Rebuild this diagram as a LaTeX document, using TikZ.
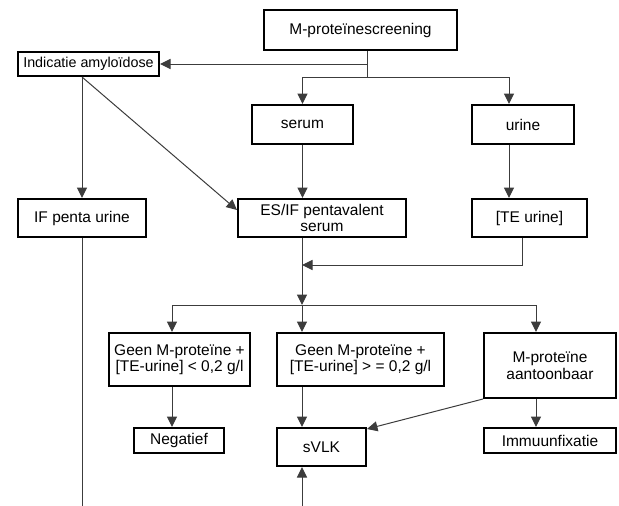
\documentclass[tikz,border=0pt]{standalone}
\usepackage{fontspec}
\setmainfont{Liberation Sans}
\usetikzlibrary{arrows.meta, positioning, calc}
\definecolor{LineGrey}{HTML}{3C3C3C}
\tikzset{
    % Box styles
    stepbox/.style={
        rectangle,
        draw=black,
        line width=2pt,
        inner sep=0pt,
        align=center,
        font=\fontsize{15.5}{16.5}\selectfont
    },
    smallbox/.style={
        stepbox,
        font=\fontsize{14.3}{16}\selectfont
    },
    % Connector styles
    link/.style={
        draw=LineGrey,
        line width=1pt
    },
    linkarrow/.style={
        link,
        -{Triangle[length=10.5pt,width=10pt]}
    }
}
\begin{document}
\begin{tikzpicture}[x=1pt,y=-1pt]
    \useasboundingbox (0,0) rectangle (619,506);

    % Top row
    \node[stepbox, minimum width=193, minimum height=40] (screen) at (360.5,30) {M-prote\"inescreening};
    \node[smallbox, minimum width=141, minimum height=24] (amyl) at (88.5,64) {Indicatie amylo\"idose};
    \node[stepbox, minimum width=101, minimum height=39] (serum) at (302.5,124.5) {serum};
    \node[stepbox, minimum width=102, minimum height=39] (urine) at (523,124.5) {urine};

    % Second row
    \node[stepbox, minimum width=128, minimum height=38] (ifpenta) at (82,218) {IF penta urine};
    \node[stepbox, minimum width=168, minimum height=38] (esif) at (322,218) {ES/IF pentavalent\\serum};
    \node[stepbox, minimum width=115, minimum height=38] (teurine) at (529.5,218) {[TE urine]};

    % Results
    \node[stepbox, minimum width=141, minimum height=53] (geenlt) at (179.5,359.5) {Geen M-prote\"ine +\\{}[TE-urine] < 0,2 g/l};
    \node[stepbox, minimum width=167, minimum height=53] (geenge) at (360.5,359.5) {Geen M-prote\"ine +\\{}[TE-urine] > = 0,2 g/l};
    \node[stepbox, minimum width=132, minimum height=65] (mprot) at (550,365.5) {M-prote\"ine\\aantoonbaar};
    \node[stepbox, minimum width=90, minimum height=25] (neg) at (179,440.5) {Negatief};
    \node[stepbox, minimum width=89, minimum height=38] (svlk) at (321.5,447) {sVLK};
    \node[stepbox, minimum width=132, minimum height=25] (immuun) at (550,440.5) {Immuunfixatie};

    % Junction points
    \coordinate (fork1) at (367,77);
    \coordinate (uline) at (509,77);
    \coordinate (tebend) at (522,265);
    \coordinate (fork2) at (302,305);
    \coordinate (ltline) at (172,305);
    \coordinate (mline) at (536,305);
    \coordinate (bottomL) at (82,506);
    \coordinate (bottomM) at (302,506);

    % Screening split
    \draw[link] (screen.south -| fork1) -- (fork1);
    \draw[linkarrow] (fork1 |- amyl.east) -- (amyl.east);
    \draw[link] (serum.north |- fork1) -- (uline);
    \draw[linkarrow] (serum.north |- fork1) -- (serum.north);
    \draw[linkarrow] (uline) -- (urine.north -| uline);

    % Amyloidosis branch
    \draw[linkarrow] (ifpenta.north |- amyl.south) -- (ifpenta.north);
    \draw[linkarrow] (ifpenta.north |- amyl.south) -- ($(esif.west)+(0,-8)$);
    \draw[link] (ifpenta.south) -- (bottomL);

    % Serum and urine
    \draw[linkarrow] (serum.south) -- (serum.south |- esif.north);
    \draw[linkarrow] (urine.south -| uline) -- (teurine.north -| uline);
    \draw[linkarrow] (teurine.south -| tebend) -- (tebend) -- (fork2 |- tebend);
    \draw[linkarrow] (esif.south -| fork2) -- (fork2);

    % Result split
    \draw[link] (ltline) -- (mline);
    \draw[linkarrow] (ltline) -- (geenlt.north -| ltline);
    \draw[linkarrow] (fork2) -- (geenge.north -| fork2);
    \draw[linkarrow] (mline) -- (mprot.north -| mline);

    % Outcomes
    \draw[linkarrow] (geenlt.south -| ltline) -- (neg.north -| ltline);
    \draw[linkarrow] (geenge.south -| fork2) -- (svlk.north -| fork2);
    \draw[linkarrow] (mprot.south -| mline) -- (immuun.north -| mline);
    \draw[linkarrow] (mprot.south west) -- ($(svlk.north east)+(0,2)$);
    \draw[linkarrow] (bottomM) -- (svlk.south -| bottomM);
\end{tikzpicture}
\end{document}
